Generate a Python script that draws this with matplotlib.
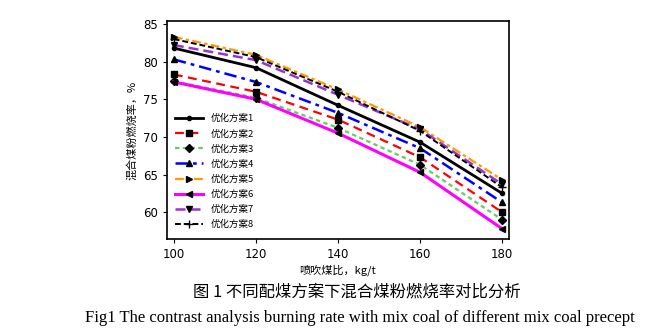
import matplotlib
matplotlib.use("Agg")
import matplotlib.pyplot as plt

plt.rcParams['font.family'] = ['Noto Sans CJK SC', 'DejaVu Sans']

x = [100, 120, 140, 160, 180]
s1 = [81.8, 79.2, 74.2, 69.3, 62.5]
s2 = [78.3, 76.0, 72.3, 67.3, 60.0]
s3 = [77.4, 75.2, 71.2, 66.3, 59.0]
s4 = [80.3, 77.3, 73.2, 68.5, 61.3]
s5 = [83.3, 80.9, 76.3, 71.3, 64.3]
s6 = [77.3, 75.0, 70.5, 65.3, 57.8]
s7 = [82.2, 80.2, 75.6, 71.0, 63.7]
s8 = [83.0, 80.6, 76.0, 70.8, 63.3]
labels = ['优化方案1', '优化方案2', '优化方案3', '优化方案4',
          '优化方案5', '优化方案6', '优化方案7', '优化方案8']

fig = plt.figure(figsize=(6.7, 3.32), dpi=100)
ax = fig.add_axes([0.249, 0.279, 0.511, 0.659])

ax.plot(x, s1, color='black', ls='-', lw=2, marker='o', ms=3, mfc='black', mec='black', label=labels[0])
ax.plot(x, s2, color='red', ls=(0, (4, 2.5)), lw=1.6, marker='s', ms=5, mfc='black', mec='black', label=labels[1])
ax.plot(x, s3, color='#66cc66', ls=(0, (2, 1.5)), lw=1.6, marker='D', ms=4, mfc='black', mec='black', label=labels[2])
ax.plot(x, s4, color='blue', ls=(0, (5, 2, 1.5, 2)), lw=1.8, marker='^', ms=5, mfc='black', mec='black', label=labels[3])
ax.plot(x, s5, color='#ff9900', ls=(0, (4, 1.5, 1.5, 1.5)), lw=1.6, marker='>', ms=5, mfc='black', mec='black', label=labels[4])
ax.plot(x, s6, color='magenta', ls='-', lw=2.2, marker='<', ms=5, mfc='black', mec='black', label=labels[5])
ax.plot(x, s7, color='#9933cc', ls=(0, (4, 2)), lw=1.8, marker='v', ms=5, mfc='black', mec='black', label=labels[6])
ax.plot(x, s8, color='black', ls=(0, (3, 1.5)), lw=1.4, marker='+', ms=5.5, mfc='black', mec='black', label=labels[7])

ax.set_xlim(98.3, 181.7)
ax.set_ylim(56.4, 85.45)
ax.set_xticks([100, 120, 140, 160, 180])
ax.set_yticks([60, 65, 70, 75, 80, 85])
ax.tick_params(direction='out', length=3, labelsize=8.5, top=False, right=False)
for lab in ax.get_xticklabels() + ax.get_yticklabels():
    lab.set_family(['DejaVu Sans'])
for sp in ax.spines.values():
    sp.set_linewidth(1.2)

ax.set_xlabel('喷吹煤比，kg/t', fontsize=8, labelpad=2)
ax.set_ylabel('混合煤粉燃烧率，%', fontsize=8, labelpad=4)

ax.legend(loc='upper left', bbox_to_anchor=(0.255, 0.668), bbox_transform=fig.transFigure,
          frameon=False, fontsize=6.8, handlelength=3, handletextpad=0.8,
          labelspacing=0.62, borderaxespad=0)

fig.text(0.533, 0.12, '图 1 不同配煤方案下混合煤粉燃烧率对比分析', ha='center', va='center', fontsize=11.8)
fig.text(0.537, 0.042, 'Fig1 The contrast analysis burning rate with mix coal of different mix coal precept',
         ha='center', va='center', fontsize=12.0, family=['Liberation Serif'])

fig.savefig('out.png', dpi=100)
